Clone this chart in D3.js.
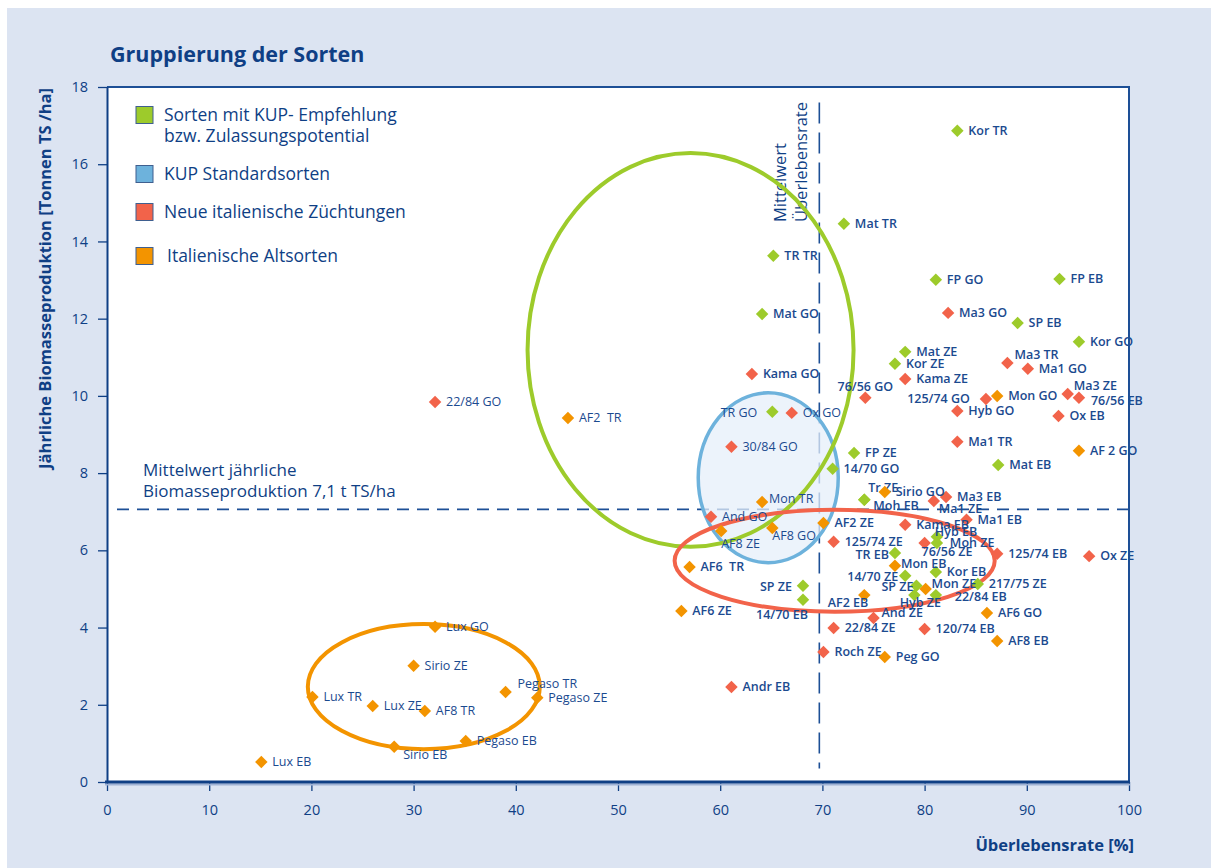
<!DOCTYPE html>
<html>
<head>
<meta charset="utf-8">
<script src="https://cdnjs.cloudflare.com/ajax/libs/d3/7.8.5/d3.min.js"></script>
<style>
  body { margin: 0; background: #fff; }
  svg { display: block; font-family: "Open Sans", sans-serif; }
</style>
</head>
<body>
<script>
// ---- data ----
const xTicks = [0, 10, 20, 30, 40, 50, 60, 70, 80, 90, 100];
const yTicks = [0, 2, 4, 6, 8, 10, 12, 14, 16, 18];

const legendLabels = [
  ["Sorten mit KUP- Empfehlung", "bzw. Zulassungspotential"],
  ["KUP Standardsorten"],
  ["Neue italienische Züchtungen"],
  ["Italienische Altsorten"]
];

// [Sorte, Überlebensrate %, Biomasse t TS/ha]
const kupEmpfehlung = [
  ["Kor TR", 83.2, 16.87], ["Mat TR", 72.1, 14.46], ["TR TR", 65.2, 13.63],
  ["FP GO", 81.1, 13.01], ["FP EB", 93.2, 13.03], ["Mat GO", 64.1, 12.12],
  ["SP EB", 89.1, 11.89], ["Kor GO", 95.1, 11.40], ["Mat ZE", 78.1, 11.14],
  ["Kor ZE", 77.1, 10.83], ["TR GO", 65.1, 9.59], ["FP ZE", 73.1, 8.52],
  ["14/70 GO", 71.0, 8.11], ["Mat EB", 87.2, 8.21], ["Tr ZE", 74.1, 7.31],
  ["Moh EB", 74.1, 7.31], ["Hyb EB", 81.2, 6.35], ["Moh ZE", 81.2, 6.19],
  ["TR EB", 77.1, 5.93], ["Kor EB", 81.1, 5.44], ["14/70 ZE", 78.1, 5.34],
  ["SP ZE", 79.2, 5.08], ["217/75 ZE", 85.2, 5.13], ["Hyb ZE", 79.0, 4.84],
  ["22/84 EB", 81.1, 4.84], ["SP ZE", 68.1, 5.08], ["14/70 EB", 68.1, 4.72]
];

const neueZuechtungen = [
  ["22/84 GO", 32.1, 9.84], ["Kama GO", 63.1, 10.57], ["Ma3 GO", 82.3, 12.15],
  ["Ma3 TR", 88.1, 10.85], ["Ma1 GO", 90.1, 10.70], ["Kama ZE", 78.1, 10.44],
  ["76/56 GO", 74.2, 9.95], ["125/74 GO", 86.0, 9.92], ["Ma3 ZE", 94.0, 10.05],
  ["76/56 EB", 95.1, 9.95], ["Ox GO", 67.0, 9.56], ["Hyb GO", 83.2, 9.61],
  ["Ox EB", 93.1, 9.48], ["30/84 GO", 61.1, 8.68], ["Ma1 TR", 83.2, 8.81],
  ["Ma3 EB", 82.1, 7.38], ["Ma1 ZE", 80.9, 7.28], ["Ma1 EB", 84.1, 6.79],
  ["And GO", 59.1, 6.87], ["Kama EB", 78.1, 6.66], ["125/74 ZE", 71.1, 6.22],
  ["76/56 ZE", 80.0, 6.19], ["125/74 EB", 87.1, 5.91], ["Ox ZE", 96.1, 5.85],
  ["And ZE", 75.0, 4.25], ["22/84 ZE", 71.1, 3.99], ["120/74 EB", 80.0, 3.96],
  ["Roch ZE", 70.1, 3.37], ["Andr EB", 61.1, 2.46]
];

const altsorten = [
  ["AF2  TR", 45.1, 9.43], ["AF 2 GO", 95.1, 8.58], ["Mon GO", 87.1, 10.0],
  ["Mon TR", 64.1, 7.25], ["Sirio GO", 76.1, 7.51], ["AF2 ZE", 70.1, 6.71],
  ["AF8 ZE", 60.1, 6.50], ["AF8 GO", 65.1, 6.58], ["AF6  TR", 57.0, 5.57],
  ["Mon EB", 77.1, 5.60], ["Mon ZE", 80.1, 5.0], ["AF2 EB", 74.1, 4.84],
  ["AF6 ZE", 56.2, 4.43], ["AF6 GO", 86.1, 4.38], ["AF8 EB", 87.1, 3.65],
  ["Peg GO", 76.1, 3.24], ["Lux GO", 32.1, 4.02], ["Sirio ZE", 30.0, 3.01],
  ["Pegaso TR", 39.0, 2.33], ["Pegaso ZE", 42.1, 2.18], ["Lux TR", 20.1, 2.20],
  ["Lux ZE", 26.0, 1.97], ["AF8 TR", 31.1, 1.84], ["Pegaso EB", 35.1, 1.06],
  ["Sirio EB", 28.1, 0.91], ["Lux EB", 15.1, 0.52]
];

// cluster ellipses: [centre x, centre y, radius x, radius y] in data units
const greenCluster = [57.1, 11.19, 15.95, 5.1];
const blueCluster = [64.7, 7.88, 6.85, 2.2];
const redCluster = [71.2, 5.73, 15.66, 1.32];
const orangeCluster = [31.0, 2.47, 11.35, 1.62];

const meanSurvival = 69.7;
const meanBiomass = 7.06;

// ---- layout ----
const W = 1211, H = 868;
const navy = "#0f3f85", textBlue = "#1b4a8f";
const cGreen = "#9dcb2b", cBlue = "#6db2dc", cRed = "#f2634a", cOrange = "#f39400";

// label offsets from the diamond centre: [dx, dy, anchor]
const labelPos = {
  "76/56 GO": [0, -11, "middle"], "125/74 GO": [-16, 0, "end"],
  "Ma3 TR": [7, -8], "Ma3 ZE": [6, -8], "76/56 EB": [12, 3],
  "TR GO": [-15, 1, "end"], "Tr ZE": [4, -12], "Sirio GO": [11, 0],
  "Moh EB": [9, 6], "Ma1 ZE": [5, 8], "Mon TR": [7, -3],
  "AF8 ZE": [0, 13], "AF8 GO": [0, 8], "Hyb EB": [-2, -5],
  "Moh ZE": [13, 0], "76/56 ZE": [-3, 9], "TR EB": [-6, 2, "end"],
  "Mon EB": [6, -2], "14/70 ZE": [-7, 1, "end"], "SP ZE@79": [-3, 1, "end"],
  "SP ZE@68": [-11, 1, "end"], "Mon ZE": [6, -5], "Hyb ZE": [6, 8, "middle"],
  "22/84 EB": [19, 2], "AF2 EB": [4, 8, "end"], "14/70 EB": [5, 15, "end"],
  "And ZE": [8, -5], "Pegaso TR": [12, -8], "Sirio EB": [9, 8]
};
const regularWeight = new Set(["22/84 GO", "AF2  TR", "Lux GO", "Sirio ZE", "Pegaso TR",
  "Pegaso ZE", "Lux TR", "Lux ZE", "AF8 TR", "Pegaso EB", "Sirio EB", "Lux EB",
  "TR GO", "Ox GO", "30/84 GO", "Mon TR", "And GO", "AF8 ZE", "AF8 GO"]);

const svg = d3.select("body").append("svg").attr("width", W).attr("height", H);

svg.append("rect").attr("x", 7).attr("y", 8).attr("width", W - 7).attr("height", H - 8)
  .attr("fill", "#dce4f2");

const x = d3.scaleLinear().domain([0, 100]).range([107, 1129]);
const y = d3.scaleLinear().domain([0, 18]).range([782, 87]);

svg.append("rect").attr("x", x(0)).attr("y", y(18))
  .attr("width", x(100) - x(0)).attr("height", y(0) - y(18)).attr("fill", "#fff");

// title
svg.append("text").attr("x", 110).attr("y", 62)
  .attr("font-size", 21.5).attr("font-weight", 700).attr("fill", navy)
  .text("Gruppierung der Sorten");

// mean lines
svg.append("line")
  .attr("x1", 117).attr("x2", x(100)).attr("y1", y(meanBiomass)).attr("y2", y(meanBiomass))
  .attr("stroke", "#1d4f96").attr("stroke-width", 1.6).attr("stroke-dasharray", "12,8");
svg.append("line")
  .attr("x1", x(meanSurvival)).attr("x2", x(meanSurvival)).attr("y1", y(17.6)).attr("y2", y(0.35))
  .attr("stroke", "#1d4f96").attr("stroke-width", 1.6).attr("stroke-dasharray", "21,9");

const meanText = svg.append("text").attr("font-size", 17).attr("fill", navy);
meanText.append("tspan").attr("x", 143).attr("y", 476).text("Mittelwert jährliche");
meanText.append("tspan").attr("x", 143).attr("y", 497).text("Biomasseproduktion 7,1 t TS/ha");

const vText = svg.append("text").attr("font-size", 16.5).attr("fill", navy)
  .attr("transform", "translate(0,222) rotate(-90)");
vText.append("tspan").attr("x", 0).attr("y", 786).text("Mittelwert");
vText.append("tspan").attr("x", 0).attr("y", 807).text("Überlebensrate");

// clusters
function ellipse(c, stroke, fill, width) {
  return svg.append("ellipse")
    .attr("cx", x(c[0])).attr("cy", y(c[1]))
    .attr("rx", x(c[2]) - x(0)).attr("ry", y(0) - y(c[3]))
    .attr("fill", fill).attr("stroke", stroke).attr("stroke-width", width);
}
ellipse(blueCluster, cBlue, "#e6effa", 3.5).attr("fill-opacity", 0.75);
ellipse(greenCluster, cGreen, "none", 4);
ellipse(redCluster, cRed, "none", 4);
ellipse(orangeCluster, cOrange, "none", 4);

// points
const diamond = d3.symbol(d3.symbolSquare, 78);
function drawGroup(rows, color) {
  const g = svg.append("g");
  g.selectAll("path").data(rows).join("path")
    .attr("d", diamond)
    .attr("transform", d => `translate(${x(d[1])},${y(d[2])}) rotate(45)`)
    .attr("fill", color);
  g.selectAll("text").data(rows).join("text")
    .each(function (d) {
      const key = d[0] === "SP ZE" ? "SP ZE@" + Math.round(d[1]) : d[0];
      const p = labelPos[key] || [11, 0, "start"];
      d3.select(this)
        .attr("x", x(d[1]) + p[0]).attr("y", y(d[2]) + p[1] + 4.3)
        .attr("text-anchor", p[2] || "start");
    })
    .attr("font-size", 12.5)
    .attr("font-weight", d => regularWeight.has(d[0]) ? 400 : 600)
    .attr("fill", textBlue)
    .attr("xml:space", "preserve")
    .style("white-space", "pre")
    .text(d => d[0]);
}
drawGroup(kupEmpfehlung, cGreen);
drawGroup(neueZuechtungen, cRed);
drawGroup(altsorten, cOrange);

// frame
svg.append("path")
  .attr("d", `M${x(0)},${y(18)}H${x(100)}V${y(0)}`)
  .attr("fill", "none").attr("stroke", "#1d4f96").attr("stroke-width", 2);

// axes
const yAxis = svg.append("g").attr("transform", `translate(${x(0)},0)`)
  .call(d3.axisLeft(y).tickValues(yTicks).tickSize(9).tickSizeOuter(0).tickPadding(10));
const xAxis = svg.append("g").attr("transform", `translate(0,${y(0)})`)
  .call(d3.axisBottom(x).tickValues(xTicks).tickSize(9).tickSizeOuter(0).tickPadding(14));
[yAxis, xAxis].forEach(a => {
  a.selectAll(".tick line").attr("stroke", navy).attr("stroke-width", 1.3);
  a.selectAll(".tick text").attr("fill", navy).attr("font-size", 14.5)
    .attr("font-family", "'Open Sans', sans-serif");
});
yAxis.select(".domain").attr("stroke", navy).attr("stroke-width", 2);
xAxis.select(".domain").remove();
svg.append("line").attr("x1", x(0) - 2).attr("x2", x(100) + 1)
  .attr("y1", y(0) + 2.5).attr("y2", y(0) + 2.5).attr("stroke", "#9fb2d4").attr("stroke-width", 2);
svg.append("line").attr("x1", x(0) - 2).attr("x2", x(100) + 1)
  .attr("y1", y(0)).attr("y2", y(0)).attr("stroke", navy).attr("stroke-width", 3);

// axis titles
svg.append("text").attr("transform", "translate(51,88) rotate(-90)")
  .attr("text-anchor", "end").attr("font-size", 16.5).attr("font-weight", 700).attr("fill", navy)
  .text("Jährliche Biomasseproduktion [Tonnen TS /ha]");
svg.append("text").attr("x", 1134).attr("y", 851)
  .attr("text-anchor", "end").attr("font-size", 16.5).attr("font-weight", 700).attr("fill", navy)
  .text("Überlebensrate [%]");

// legend
const legendColors = [cGreen, cBlue, cRed, cOrange];
const legendY = [115, 174, 212, 256];
const lg = svg.append("g");
legendLabels.forEach((lines, i) => {
  lg.append("rect").attr("x", 136).attr("y", legendY[i] - 8.5).attr("width", 17).attr("height", 17)
    .attr("fill", legendColors[i]).attr("stroke", "#3f5f8f").attr("stroke-width", 1);
  const t = lg.append("text").attr("font-size", 17.5).attr("fill", navy);
  lines.forEach((s, j) => t.append("tspan")
    .attr("x", i === 3 ? 167 : 164).attr("y", legendY[i] + 6 + j * 21).text(s));
});
</script>
</body>
</html>
